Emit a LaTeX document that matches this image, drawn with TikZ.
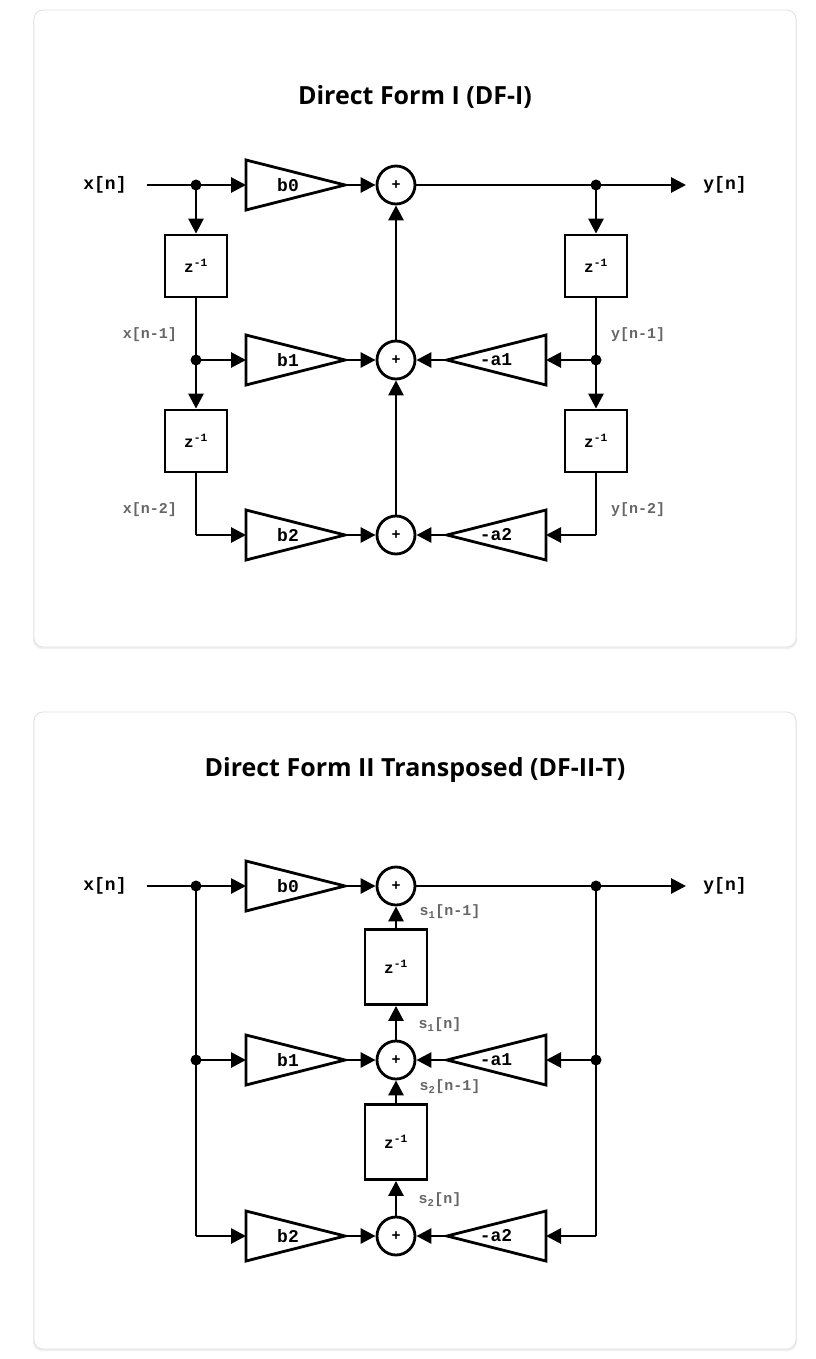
\documentclass[tikz,border=0pt]{standalone}
\usepackage{fontspec}
\setmainfont{Open Sans}
\newfontfamily\mono{Liberation Mono}
\usetikzlibrary{arrows.meta}
\definecolor{lab}{HTML}{666666}
\tikzset{
  x=1pt,y=-1pt,
  ln/.style={line width=2.8pt},
  arr/.style={ln,-{Triangle[length=15pt,width=15pt]}},
  sum/.style={circle,draw,line width=2.8pt,minimum size=38pt,inner sep=0pt,fill=white,font=\mono\bfseries\fontsize{15}{15}\selectfont},
  dl/.style={draw,line width=2.8pt,minimum width=62pt,fill=white,font=\mono\bfseries\fontsize{16}{16}\selectfont},
  gain/.style={inner sep=0pt,font=\mono\bfseries\fontsize{18}{18}\selectfont},
  io/.style={inner sep=0pt,font=\mono\bfseries\fontsize{18}{18}\selectfont},
  sig/.style={inner sep=0pt,text=lab,font=\mono\bfseries\fontsize{15}{15}\selectfont},
  dot/.style={circle,fill,inner sep=0pt,minimum size=11pt},
  ttl/.style={font=\bfseries\fontsize{25}{25}\selectfont},
}
\newcommand\gainR[4]{%
  \draw[ln,line join=miter] (#2,#3-25) -- (#2+99,#3) -- (#2,#3+25) -- cycle;
  \coordinate (#1i) at (#2,#3); \coordinate (#1o) at (#2+99,#3);
  \node[gain] (#1) at (#2+42,#3) {#4};}
\newcommand\gainL[4]{%
  \draw[ln,line join=miter] (#2,#3-25) -- (#2-99,#3) -- (#2,#3+25) -- cycle;
  \coordinate (#1i) at (#2,#3); \coordinate (#1o) at (#2-99,#3);
  \node[gain] (#1) at (#2-50,#3) {#4};}
\begin{document}
\begin{tikzpicture}
\useasboundingbox[fill=white] (0,0) rectangle (815,1359);
\foreach \t/\b in {10/647,712/1349}{
  \fill[black!6,rounded corners=9pt] (33,\t+2) rectangle (797,\b+2);
  \draw[black!12,fill=white,rounded corners=9pt,line width=0.8pt] (34,\t) rectangle (796,\b);
}
%================ DF-I
\node[ttl] (t1) at (415,97) {Direct Form I (DF-I)};
\node[io] (x1) at (105,185) {x[n]};
\node[io] (y1) at (725,185) {y[n]};
\node[dot] (d1) at (196,185) {};
\node[dot] (d2) at (196,360) {};
\node[dot] (e1) at (596,185) {};
\node[dot] (e2) at (596,360) {};
\coordinate (c1) at (196,535); \coordinate (c2) at (596,535);
\coordinate (yo) at (686,185); \coordinate (xs) at (147,185);
\node[dl,minimum height=62pt] (zx1) at (196,266) {z\textsuperscript{-1}};
\node[dl,minimum height=62pt] (zx2) at (196,441) {z\textsuperscript{-1}};
\node[dl,minimum height=62pt] (zy1) at (596,266) {z\textsuperscript{-1}};
\node[dl,minimum height=62pt] (zy2) at (596,441) {z\textsuperscript{-1}};
\gainR{b0}{246}{185}{b0}
\gainR{b1}{246}{360}{b1}
\gainR{b2}{246}{535}{b2}
\gainL{a1}{546}{360}{-a1}
\gainL{a2}{546}{535}{-a2}
\node[sum] (s1) at (396,185) {+};
\node[sum] (s2) at (396,360) {+};
\node[sum] (s3) at (396,535) {+};
\node[sig] at (150,335) {x[n-1]};
\node[sig] at (150,510) {x[n-2]};
\node[sig] at (638,335) {y[n-1]};
\node[sig] at (638,510) {y[n-2]};
\draw[ln] (xs) -- (d1.center);
\draw[arr] (d1.center) -- (b0i);
\draw[arr] (b0o) -- (s1);
\draw[ln] (s1) -- (e1.center);
\draw[arr] (e1.center) -- (yo);
\draw[arr] (d1.center) -- (zx1);
\draw[ln] (zx1) -- (d2.center);
\draw[arr] (d2.center) -- (zx2);
\draw[arr] (d2.center) -- (b1i);
\draw[arr] (b1o) -- (s2);
\draw[ln] (zx2) -- (c1);
\draw[arr] (c1) -- (b2i);
\draw[arr] (b2o) -- (s3);
\draw[arr] (e1.center) -- (zy1);
\draw[ln] (zy1) -- (e2.center);
\draw[arr] (e2.center) -- (zy2);
\draw[arr] (e2.center) -- (a1i);
\draw[arr] (a1o) -- (s2);
\draw[ln] (zy2) -- (c2);
\draw[arr] (c2) -- (a2i);
\draw[arr] (a2o) -- (s3);
\draw[arr] (s3) -- (s2);
\draw[arr] (s2) -- (s1);
%================ DF-II-T
\node[ttl] (t2) at (415,770) {Direct Form II Transposed (DF-II-T)};
\node[io] (x2) at (105,886) {x[n]};
\node[io] (y2) at (725,886) {y[n]};
\node[dot] (f1) at (196,886) {};
\node[dot] (f2) at (196,1060) {};
\node[dot] (g1) at (596,886) {};
\node[dot] (g2) at (596,1060) {};
\coordinate (h1) at (196,1236); \coordinate (h2) at (596,1236);
\coordinate (yo2) at (686,886); \coordinate (xs2) at (147,886);
\gainR{B0}{246}{886}{b0}
\gainR{B1}{246}{1060}{b1}
\gainR{B2}{246}{1236}{b2}
\gainL{A1}{546}{1060}{-a1}
\gainL{A2}{546}{1236}{-a2}
\node[sum] (u1) at (396,886) {+};
\node[sum] (u2) at (396,1060) {+};
\node[sum] (u3) at (396,1236) {+};
\node[dl,minimum height=75pt] (w1) at (396,967) {z\textsuperscript{-1}};
\node[dl,minimum height=75pt] (w2) at (396,1142) {z\textsuperscript{-1}};
\node[sig] at (450,912) {s\textsubscript{1}[n-1]};
\node[sig] at (440,1025) {s\textsubscript{1}[n]};
\node[sig] at (450,1087) {s\textsubscript{2}[n-1]};
\node[sig] at (440,1200) {s\textsubscript{2}[n]};
\draw[ln] (xs2) -- (f1.center);
\draw[arr] (f1.center) -- (B0i);
\draw[arr] (B0o) -- (u1);
\draw[ln] (u1) -- (g1.center);
\draw[arr] (g1.center) -- (yo2);
\draw[ln] (f1.center) -- (h1);
\draw[arr] (f2.center) -- (B1i);
\draw[arr] (h1) -- (B2i);
\draw[arr] (B1o) -- (u2);
\draw[arr] (B2o) -- (u3);
\draw[ln] (g1.center) -- (h2);
\draw[arr] (g2.center) -- (A1i);
\draw[arr] (h2) -- (A2i);
\draw[arr] (A1o) -- (u2);
\draw[arr] (A2o) -- (u3);
\draw[arr] (w1) -- (u1);
\draw[arr] (u2) -- (w1);
\draw[arr] (w2) -- (u2);
\draw[arr] (u3) -- (w2);
\end{tikzpicture}
\end{document}
